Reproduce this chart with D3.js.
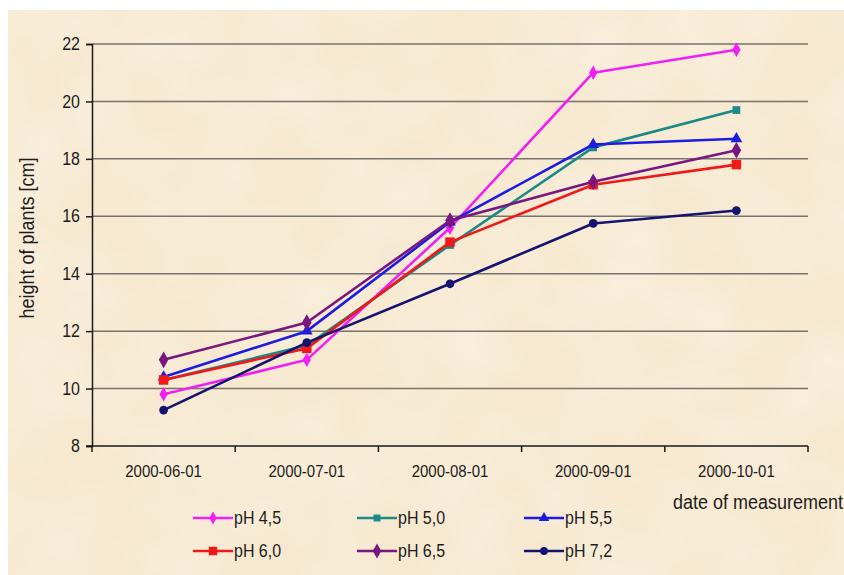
<!DOCTYPE html>
<html>
<head>
<meta charset="utf-8">
<script src="https://cdn.jsdelivr.net/npm/d3@7"></script>
<style>
  html, body { margin: 0; padding: 0; background: #ffffff; }
  svg { display: block; font-family: "Liberation Sans", Arial, sans-serif; }
</style>
</head>
<body>
<svg id="chart" width="844" height="575"></svg>
<script>
// Measurement dates (categories on the x axis)
const dates = ["2000-06-01", "2000-07-01", "2000-08-01", "2000-09-01", "2000-10-01"];

// Plant height [cm] per soil pH
const ph45 = [9.8, 11.0, 15.6, 21.0, 21.8];
const ph50 = [10.3, 11.5, 15.0, 18.4, 19.7];
const ph55 = [10.4, 12.0, 15.8, 18.5, 18.7];
const ph60 = [10.3, 11.4, 15.1, 17.1, 17.8];
const ph65 = [11.0, 12.3, 15.85, 17.2, 18.3];
const ph72 = [9.25, 11.6, 13.65, 15.75, 16.2];

const seriesNames = ["pH 4,5", "pH 5,0", "pH 5,5", "pH 6,0", "pH 6,5", "pH 7,2"];
const yTicks = [8, 10, 12, 14, 16, 18, 20, 22];

const series = [
  { name: seriesNames[0], values: ph45, color: "#f020f0", symbol: d3.symbolDiamond, size: 60 },
  { name: seriesNames[1], values: ph50, color: "#1a8a88", symbol: d3.symbolSquare, size: 60 },
  { name: seriesNames[2], values: ph55, color: "#1c1ce0", symbol: d3.symbolTriangle, size: 60 },
  { name: seriesNames[3], values: ph60, color: "#f01818", symbol: d3.symbolSquare, size: 90 },
  { name: seriesNames[4], values: ph65, color: "#7a1680", symbol: d3.symbolDiamond, size: 80 },
  { name: seriesNames[5], values: ph72, color: "#141470", symbol: d3.symbolCircle, size: 60 }
];

const textColor = "#1c1c1c";
const stretch = "scale(1,1.1)";

const svg = d3.select("#chart");

// parchment-like background with a soft mottled texture
const defs = svg.append("defs");
const f = defs.append("filter").attr("id", "paper")
  .attr("x", 0).attr("y", 0).attr("width", "100%").attr("height", "100%");
f.append("feTurbulence").attr("type", "fractalNoise")
  .attr("baseFrequency", "0.012").attr("numOctaves", 3).attr("seed", 7).attr("result", "noise");
f.append("feColorMatrix").attr("in", "noise").attr("type", "matrix")
  .attr("values", "0 0 0 0 1  0 0 0 0 1  0 0 0 0 1  0.45 0 0 0 -0.15").attr("result", "spots");
f.append("feComposite").attr("in", "spots").attr("in2", "SourceGraphic").attr("operator", "in").attr("result", "clip");
f.append("feMerge").selectAll("feMergeNode").data(["SourceGraphic", "clip"]).join("feMergeNode")
  .attr("in", d => d);

svg.append("rect")
  .attr("x", 8).attr("y", 10).attr("width", 836).attr("height", 565)
  .attr("fill", "#f7e9d0")
  .attr("filter", "url(#paper)");

const x = d3.scaleBand().domain(dates).range([92, 808]);
const y = d3.scaleLinear().domain([8, 22]).range([446, 44]);

// horizontal gridlines
svg.append("g")
  .selectAll("line")
  .data(yTicks.filter(t => t > 8))
  .join("line")
  .attr("x1", x.range()[0]).attr("x2", x.range()[1])
  .attr("y1", d => y(d)).attr("y2", d => y(d))
  .attr("stroke", "#77726c").attr("stroke-width", 1.5);

// y axis
const yAxis = svg.append("g")
  .attr("transform", `translate(${x.range()[0]},0)`)
  .call(d3.axisLeft(y).tickValues(yTicks).tickSize(6).tickPadding(6).tickFormat(d3.format("d")));
yAxis.select(".domain").attr("stroke", "#1a1a1a").attr("stroke-width", 1.5);
yAxis.selectAll(".tick line").attr("stroke", "#1a1a1a").attr("stroke-width", 1.5);
yAxis.selectAll(".tick text")
  .attr("font-size", 16).attr("fill", textColor)
  .attr("font-family", "'Liberation Sans', Arial, sans-serif")
  .attr("transform", stretch);

// x axis with tick marks between categories
const xAxis = svg.append("g").attr("transform", `translate(0,${y(8)})`);
xAxis.append("line")
  .attr("x1", x.range()[0] - 6).attr("x2", x.range()[1])
  .attr("stroke", "#1a1a1a").attr("stroke-width", 1.5);
const boundaries = dates.map(d => x(d)).concat([x.range()[1]]);
xAxis.selectAll("line.tk").data(boundaries).join("line").attr("class", "tk")
  .attr("x1", d => d).attr("x2", d => d).attr("y1", 0).attr("y2", 6)
  .attr("stroke", "#1a1a1a").attr("stroke-width", 1.5);
xAxis.selectAll("text").data(dates).join("text")
  .attr("transform", d => `translate(${x(d) + x.bandwidth() / 2},31) ${stretch}`)
  .attr("text-anchor", "middle")
  .attr("font-size", 15).attr("fill", textColor)
  .text(d => d);

// axis titles
svg.append("text")
  .attr("transform", "translate(34,238) rotate(-90) " + stretch)
  .attr("text-anchor", "middle")
  .attr("font-size", 18).attr("fill", textColor)
  .text("height of plants [cm]");

svg.append("text")
  .attr("transform", "translate(843,509) " + stretch)
  .attr("text-anchor", "end")
  .attr("font-size", 18).attr("fill", textColor)
  .text("date of measurement");

// series lines and markers
const line = d3.line()
  .x((d, i) => x(dates[i]) + x.bandwidth() / 2)
  .y(d => y(d));

const g = svg.append("g");
series.forEach(s => {
  g.append("path")
    .attr("d", line(s.values))
    .attr("fill", "none")
    .attr("stroke", s.color)
    .attr("stroke-width", 2.6)
    .attr("stroke-linejoin", "round");
  g.selectAll(null).data(s.values).join("path")
    .attr("transform", (d, i) => `translate(${x(dates[i]) + x.bandwidth() / 2},${y(d)})`)
    .attr("d", d3.symbol().type(s.symbol).size(s.size))
    .attr("fill", s.color);
});

// legend: two rows of three entries
const legendCols = [193, 357, 524];
const legendRows = [518, 551];
const lg = svg.append("g");
series.forEach((s, i) => {
  const cx = legendCols[i % 3], cy = legendRows[Math.floor(i / 3)];
  lg.append("line")
    .attr("x1", cx).attr("x2", cx + 40).attr("y1", cy).attr("y2", cy)
    .attr("stroke", s.color).attr("stroke-width", 2.6);
  lg.append("path")
    .attr("transform", `translate(${cx + 20},${cy})`)
    .attr("d", d3.symbol().type(s.symbol).size(s.size * 0.8))
    .attr("fill", s.color);
  lg.append("text")
    .attr("transform", `translate(${cx + 41},${cy + 6}) ${stretch}`)
    .attr("font-size", 16).attr("fill", textColor)
    .text(s.name);
});
</script>
</body>
</html>
